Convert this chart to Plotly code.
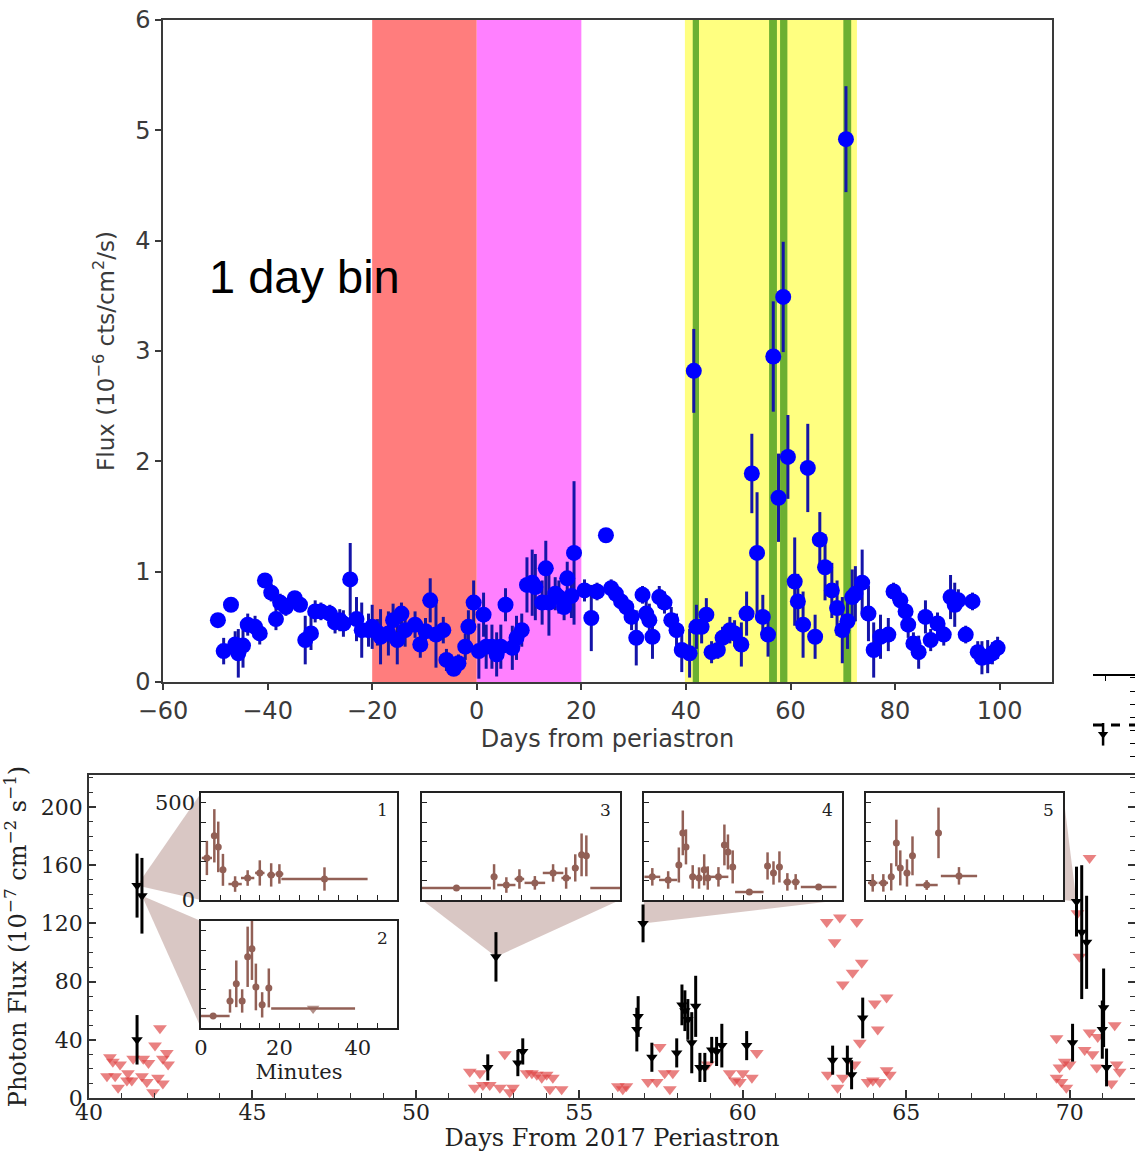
import plotly.graph_objects as go

# ---------------- top panel : 1 day bin light curve ----------------
top_days = [-49.5, -48.4, -47.0, -46.2, -45.6, -44.7, -43.8, -42.4, -41.5, -40.5, -39.3, -38.4, -37.6,
            -36.5, -34.8, -33.8, -32.8, -31.7, -30.9, -29.8, -28.1, -27.1, -26.2, -25.5, -24.2, -23.0,
            -22.0, -20.7, -20.0, -19.0, -18.4, -16.9, -16.0, -15.2, -14.4, -13.7, -11.8, -10.8, -9.8,
            -8.9, -7.8, -6.4, -5.8, -4.4, -3.5, -2.2, -1.6, -0.6, 0.4, 1.3, 1.8, 2.9, 3.8, 4.6, 5.5,
            6.8, 7.6, 8.6, 9.6, 10.6, 11.2, 12.5, 13.2, 13.8, 15.0, 15.7, 16.7, 17.3, 18.1, 18.6, 20.6,
            21.9, 23.0, 24.7, 25.7, 26.6, 27.6, 28.6, 29.6, 30.5, 31.7, 32.4, 33.0, 33.6, 34.9, 35.9,
            37.2, 38.2, 39.2, 40.7, 41.5, 42.0, 43.0, 43.9, 44.9, 46.1, 47.0, 48.4, 49.3, 50.6, 51.6,
            52.6, 53.6, 54.7, 55.7, 56.7, 57.7, 58.6, 59.5, 60.8, 61.4, 62.4, 63.3, 64.7, 65.6, 66.6,
            67.9, 68.9, 69.9, 70.6, 70.9, 71.8, 72.4, 73.7, 74.9, 75.9, 77.2, 78.7, 79.7, 81.0, 82.0,
            82.5, 83.5, 84.5, 85.8, 86.8, 88.1, 89.3, 90.6, 91.4, 92.1, 93.5, 94.8, 95.8, 96.6, 97.7,
            98.6, 99.6]
top_flux = [0.56, 0.28, 0.70, 0.34, 0.26, 0.33, 0.52, 0.50, 0.44, 0.92, 0.81, 0.57, 0.72,
            0.68, 0.76, 0.70, 0.38, 0.44, 0.64, 0.64, 0.62, 0.54, 0.56, 0.53, 0.93, 0.57,
            0.47, 0.47, 0.50, 0.45, 0.41, 0.44, 0.56, 0.38, 0.62, 0.47, 0.52, 0.34, 0.46,
            0.74, 0.43, 0.47, 0.20, 0.12, 0.17, 0.32, 0.50, 0.72, 0.28, 0.61, 0.32, 0.32, 0.25, 0.32, 0.70,
            0.31, 0.40, 0.47, 0.88, 0.90, 0.86, 0.72, 1.03, 0.72, 0.80, 0.77, 0.68, 0.94, 0.78, 1.17, 0.83,
            0.58, 0.82, 1.33, 0.85, 0.80, 0.73, 0.68, 0.59, 0.40, 0.79, 0.62, 0.56, 0.41, 0.77, 0.72,
            0.56, 0.47, 0.29, 0.26, 2.82, 0.50, 0.50, 0.61, 0.27, 0.29, 0.40, 0.47, 0.44, 0.34, 0.62,
            1.89, 1.17, 0.59, 0.43, 2.95, 1.67, 3.49, 2.04, 0.91, 0.73, 0.52, 1.94, 0.41, 1.29, 1.04,
            0.83, 0.67, 0.47, 4.92, 0.55, 0.77, 0.80, 0.90, 0.62, 0.29, 0.41, 0.43, 0.82, 0.74, 0.64,
            0.52, 0.35, 0.27, 0.59, 0.38, 0.53, 0.43, 0.77, 0.70, 0.74, 0.43, 0.73, 0.27, 0.22, 0.23,
            0.26, 0.31]
top_err = [0.06, 0.12, 0.06, 0.12, 0.22, 0.20, 0.10, 0.10, 0.10, 0.06, 0.08, 0.10, 0.08,
           0.08, 0.06, 0.06, 0.22, 0.15, 0.10, 0.08, 0.08, 0.10, 0.10, 0.12, 0.33, 0.20,
           0.25, 0.15, 0.20, 0.12, 0.25, 0.20, 0.15, 0.22, 0.10, 0.15, 0.12, 0.12, 0.12,
           0.20, 0.30, 0.12, 0.10, 0.06, 0.08, 0.12, 0.15, 0.20, 0.25, 0.20, 0.20, 0.20, 0.20, 0.20, 0.15,
           0.20, 0.20, 0.15, 0.25, 0.30, 0.30, 0.20, 0.25, 0.30, 0.15, 0.15, 0.12, 0.15, 0.20, 0.65, 0.10,
           0.30, 0.08, 0.05, 0.08, 0.08, 0.08, 0.08, 0.12, 0.25, 0.08, 0.12, 0.15, 0.20, 0.10, 0.10,
           0.12, 0.15, 0.20, 0.22, 0.38, 0.20, 0.15, 0.15, 0.10, 0.08, 0.10, 0.12, 0.12, 0.20, 0.20,
           0.36, 0.55, 0.20, 0.20, 0.50, 0.40, 0.50, 0.38, 0.40, 0.25, 0.30, 0.40, 0.20, 0.25, 0.30,
           0.25, 0.25, 0.30, 0.48, 0.25, 0.25, 0.25, 0.30, 0.25, 0.25, 0.20, 0.15, 0.08, 0.08, 0.10,
           0.12, 0.10, 0.15, 0.15, 0.10, 0.10, 0.10, 0.20, 0.20, 0.10, 0.08, 0.08, 0.10, 0.15, 0.15,
           0.10, 0.10]

band_red = [-20, 0]
band_magenta = [0, 20]
band_yellow = [39.8, 72.7]
green_bands = [[41.3, 42.5], [55.9, 57.4], [58.0, 59.4], [70.1, 71.6]]

# ---------------- bottom panel : detections and upper limits ----------------
det_day = [41.47, 41.62, 41.47, 52.2, 52.45, 53.12, 53.27, 56.76, 56.8, 56.95, 57.22, 57.98, 58.14,
           58.23, 58.32, 58.44, 58.56, 58.69, 58.84, 59.05, 59.2, 59.36, 60.12, 62.75, 63.2, 63.33,
           63.67, 70.09, 70.21, 70.37, 70.52, 71.0, 71.04, 71.13]
det_flux = [146, 139, 40, 21, 97, 24, 32, 47, 56, 120, 28, 31, 64,
            60, 54, 38, 63, 21, 21, 33, 32, 36, 36, 26, 26, 16,
            55, 38, 135, 114, 107, 47, 62, 21]
det_err = [22, 26, 17, 9, 17, 9, 9, 15, 14, 13, 10, 10, 14,
           14, 14, 21, 21, 10, 10, 9, 10, 15, 10, 10, 10, 10,
           14, 13, 24, 46, 32, 20, 27, 13]

ul_day = [40.64, 40.73, 40.95, 40.55, 40.80, 40.89, 41.19, 41.31, 41.16, 41.35, 41.66, 41.82, 42.02,
          42.17, 41.62, 41.77, 41.96, 42.11, 42.26, 42.38, 42.42, 42.26,
          51.65, 51.96, 51.80, 52.05, 52.26, 52.57, 52.72, 52.87, 52.97, 53.39, 53.55, 53.70, 53.85,
          54.0, 54.1, 54.19, 54.46, 56.18, 56.33, 56.44, 57.10, 57.37, 57.46, 57.61, 57.77, 57.86,
          58.93, 59.6, 59.76, 59.91, 60.0, 60.28, 60.43,
          62.57, 62.97, 63.49, 62.81, 63.06, 63.36, 63.64, 62.60, 62.9, 63.06, 63.42, 63.58,
          64.04, 64.40, 64.13, 63.82, 63.98, 64.19, 64.40, 64.50,
          69.6, 69.85, 70.0, 69.69, 69.6, 69.75, 69.9, 70.61, 70.46, 70.70, 70.86, 70.83,
          71.38, 71.44, 71.53, 71.28, 70.61, 70.24, 70.3]
ul_flux = [28, 25, 23, 15, 15, 7, 17, 12, 12, 27, 27, 24, 36,
           48, 15, 11, 4, 14, 10, 31, 23, 27,
           18, 17, 7, 9, 9, 7, 30, 4, 7, 17, 17, 16, 14,
           16, 6, 14, 6, 8, 6, 8, 11, 11, 35, 17, 6, 17,
           23, 17, 12, 11, 17, 14, 31,
           121, 124, 121, 107, 78, 86, 93, 16, 7, 14, 23, 38,
           65, 69, 47, 11, 12, 11, 19, 16,
           41, 25, 23, 21, 14, 11, 7, 45, 33, 30, 42, 21,
           50, 23, 18, 10, 165, 127, 97]

# ---------------- insets : minute binned flares ----------------
in1_min = [1.5, 3.4, 4.4, 5.6, 8.7, 11.9, 15.0, 17.9, 20.0, 31.5]
in1_xerr = [1.3, 0.6, 0.6, 0.8, 1.7, 1.7, 1.2, 1.0, 1.0, 11.0]
in1_flux = [216, 330, 273, 155, 82, 113, 139, 129, 134, 108]
in1_err = [88, 137, 130, 82, 40, 40, 65, 60, 50, 60]

in2_min = [3.1, 7.4, 9.0, 10.5, 11.9, 13.0, 14.0, 15.6, 17.3]
in2_xerr = [4.2, 0.8, 0.6, 0.6, 0.5, 0.5, 0.5, 0.6, 0.5]
in2_flux = [62, 139, 227, 139, 366, 407, 211, 119, 206]
in2_err = [0, 60, 120, 60, 155, 160, 120, 65, 100]
in2_ul_min = [28.6]
in2_ul_xerr = [10.7]
in2_ul_flux = [100]

in3_min = [8.7, 18.2, 21.3, 24.6, 28.5, 33.1, 36.4, 38.7, 40.3, 41.5, 52.0]
in3_xerr = [8.7, 0.8, 2.3, 1.2, 2.6, 2.6, 1.2, 0.8, 0.6, 0.6, 9.5]
in3_flux = [62, 119, 77, 108, 88, 139, 113, 165, 232, 227, 62]
in3_err = [0, 65, 40, 50, 35, 45, 55, 70, 110, 105, 0]

in4_min = [2.1, 6.1, 8.8, 9.8, 10.6, 12.3, 13.9, 15.2, 16.1, 18.8, 20.3, 21.2, 22.4,
           26.6, 31.2, 32.7, 34.2, 36.2, 38.3, 44.1]
in4_xerr = [2.0, 2.3, 0.6, 0.5, 0.5, 0.8, 0.8, 0.6, 0.6, 2.5, 0.5, 0.5, 0.6,
            3.6, 0.6, 0.6, 0.6, 1.0, 1.0, 4.5]
in4_flux = [119, 103, 180, 345, 273, 119, 113, 155, 113, 119, 283, 247, 170,
            41, 175, 139, 170, 93, 93, 67]
in4_err = [45, 45, 90, 115, 90, 60, 55, 80, 60, 50, 105, 90, 85,
           0, 70, 60, 80, 45, 40, 0]

in5_min = [1.7, 4.4, 6.4, 7.7, 8.7, 10.4, 11.8, 15.4, 18.4, 23.6]
in5_xerr = [1.2, 1.2, 0.8, 0.5, 0.6, 0.8, 0.6, 2.8, 0.4, 4.6]
in5_flux = [88, 88, 119, 293, 165, 139, 227, 77, 345, 124]
in5_err = [45, 45, 70, 120, 90, 70, 100, 25, 130, 45]

inset_labels = ["1", "2", "3", "4", "5"]

# fragment of a neighbouring panel cut at the right edge
frag_line_x = [0, 1]
frag_line_y = [0.48, 0.48]
frag_pt_x = [0.24]
frag_pt_y = [0.38]
frag_pt_err = [0.12]

W, H = 1135, 1152


def px_x(a, b):
    return [a / W, b / W]


def px_y(top, bottom):
    return [1 - bottom / H, 1 - top / H]


TOP_X = px_x(163, 1052)
TOP_Y = px_y(20, 682)
BOT_X = [89 / W, 1.0]
BOT_Y = px_y(775, 1098)
BOT_XR = [40, 72]
BOT_YR = [0, 222]
INSETS = {
    3: (px_x(201, 397), px_y(793, 900)),
    4: (px_x(201, 397), px_y(921, 1028)),
    5: (px_x(422, 620), px_y(793, 900)),
    6: (px_x(644, 842), px_y(793, 900)),
    7: (px_x(866, 1063), px_y(793, 900)),
}
FRAG_X = [1093 / W, 1.0]
FRAG_Y = px_y(676, 770)

BLUE = "#0000ff"
BLUE_ERR = "#1414a8"
BROWN = "rgb(146,96,86)"
RED_UL = "rgba(222,70,70,0.68)"
SERIF = "DejaVu Serif"
SANS = "DejaVu Sans"
GREY = "#3a3a3a"

fig = go.Figure()

# top panel
fig.add_trace(go.Scatter(
    x=top_days, y=top_flux, mode="markers", xaxis="x", yaxis="y",
    marker=dict(color=BLUE, size=16, line=dict(width=0)),
    error_y=dict(type="data", array=top_err, color=BLUE_ERR, thickness=3, width=0),
))

shapes = []
for (a, b), col in [(band_red, "rgb(255,125,125)"), (band_magenta, "rgb(255,128,255)"),
                    (band_yellow, "rgb(255,255,128)")]:
    shapes.append(dict(type="rect", xref="x", yref="y domain", x0=a, x1=b, y0=0, y1=1,
                       fillcolor=col, line=dict(width=0), layer="below"))
for a, b in green_bands:
    shapes.append(dict(type="rect", xref="x", yref="y domain", x0=a, x1=b, y0=0, y1=1,
                       fillcolor="rgb(108,176,50)", line=dict(width=0), layer="below"))

# bottom panel
fig.add_trace(go.Scatter(
    x=ul_day, y=ul_flux, mode="markers", xaxis="x2", yaxis="y2",
    marker=dict(symbol="triangle-down", color=RED_UL, size=12, line=dict(width=0)),
))
fig.add_trace(go.Scatter(
    x=det_day, y=det_flux, mode="markers", xaxis="x2", yaxis="y2",
    marker=dict(symbol="triangle-down", color="black", size=10),
    error_y=dict(type="data", array=det_err, color="black", thickness=3, width=0),
))
# invisible trace for the mirrored right-hand tick axis
fig.add_trace(go.Scatter(x=[40], y=[0], mode="markers", xaxis="x2", yaxis="y9",
                         marker=dict(opacity=0), hoverinfo="skip"))


def to_bottom(xp, yp):
    x = BOT_XR[0] + (xp - BOT_X[0]) / (BOT_X[1] - BOT_X[0]) * (BOT_XR[1] - BOT_XR[0])
    y = BOT_YR[0] + (yp - BOT_Y[0]) / (BOT_Y[1] - BOT_Y[0]) * (BOT_YR[1] - BOT_YR[0])
    return x, y


wedges = [(0, 3, "left"), (1, 4, "left"), (4, 5, "bottom"), (9, 6, "bottom"), (28, 7, "right")]
for idx, ax, side in wedges:
    (xd, yd) = INSETS[ax]
    if side == "left":
        c1, c2 = to_bottom(xd[0], yd[1]), to_bottom(xd[0], yd[0])
    elif side == "bottom":
        c1, c2 = to_bottom(xd[0], yd[0]), to_bottom(xd[1], yd[0])
    else:
        c1, c2 = to_bottom(xd[1], yd[1]), to_bottom(xd[1], yd[0])
    ax0, ay0 = det_day[idx], det_flux[idx]
    path = f"M {ax0},{ay0} L {c1[0]},{c1[1]} L {c2[0]},{c2[1]} Z"
    shapes.append(dict(type="path", xref="x2", yref="y2", path=path,
                       fillcolor="rgba(170,130,125,0.45)", line=dict(width=0), layer="below"))

# insets
inset_data = [
    (3, in1_min, in1_xerr, in1_flux, in1_err),
    (4, in2_min, in2_xerr, in2_flux, in2_err),
    (5, in3_min, in3_xerr, in3_flux, in3_err),
    (6, in4_min, in4_xerr, in4_flux, in4_err),
    (7, in5_min, in5_xerr, in5_flux, in5_err),
]
for ax, mx, mxe, fl, fe in inset_data:
    fig.add_trace(go.Scatter(
        x=mx, y=fl, mode="markers", xaxis=f"x{ax}", yaxis=f"y{ax}",
        marker=dict(color=BROWN, size=7),
        error_x=dict(type="data", array=mxe, color=BROWN, thickness=2.5, width=0),
        error_y=dict(type="data", array=fe, color=BROWN, thickness=2.5, width=0),
    ))
fig.add_trace(go.Scatter(
    x=in2_ul_min, y=in2_ul_flux, mode="markers", xaxis="x4", yaxis="y4",
    marker=dict(symbol="triangle-down", color="rgba(146,96,86,0.7)", size=11),
    error_x=dict(type="data", array=in2_ul_xerr, color=BROWN, thickness=2.5, width=0),
))

# fragment
fig.add_trace(go.Scatter(x=frag_line_x, y=frag_line_y, mode="lines", xaxis="x8", yaxis="y8",
                         line=dict(color="black", width=3, dash="dash")))
fig.add_trace(go.Scatter(x=frag_pt_x, y=frag_pt_y, mode="markers", xaxis="x8", yaxis="y8",
                         marker=dict(symbol="triangle-down", color="black", size=9),
                         error_y=dict(type="data", array=frag_pt_err, color="black",
                                      thickness=2.5, width=0)))

annotations = [dict(text="1 day bin", xref="x domain", yref="y domain", x=0.05, y=0.612,
                    xanchor="left", yanchor="middle", showarrow=False,
                    font=dict(family="Liberation Sans", size=47, color="black"))]
for ax, lab in zip([3, 4, 5, 6, 7], inset_labels):
    annotations.append(dict(text=lab, xref=f"x{ax} domain", yref=f"y{ax} domain", x=0.965, y=0.95,
                            xanchor="right", yanchor="top", showarrow=False,
                            font=dict(family=SERIF, size=17, color="#222")))

layout = dict(
    width=W, height=H, autosize=False, margin=dict(l=0, r=0, t=0, b=0),
    paper_bgcolor="white", plot_bgcolor="white", showlegend=False,
    shapes=shapes, annotations=annotations,
    xaxis=dict(domain=TOP_X, anchor="y", range=[-60, 110], tickmode="linear", tick0=-60, dtick=20,
               ticks="outside", ticklen=6, tickwidth=1.5, tickcolor=GREY, showline=True, mirror=True,
               linecolor=GREY, linewidth=1.5, showgrid=False, zeroline=False, automargin=False,
               tickfont=dict(family=SANS, size=24, color=GREY),
               title=dict(text="Days from periastron", font=dict(family=SANS, size=24, color=GREY),
                          standoff=4)),
    yaxis=dict(domain=TOP_Y, anchor="x", range=[0, 6], dtick=1, ticks="outside", ticklen=6,
               tickwidth=1.5, tickcolor=GREY, showline=True, mirror=True, linecolor=GREY,
               linewidth=1.5, showgrid=False, zeroline=False, automargin=False,
               tickfont=dict(family=SANS, size=24, color=GREY),
               title=dict(text="Flux (10<sup>−6</sup> cts/cm<sup>2</sup>/s)",
                          font=dict(family=SANS, size=23, color=GREY), standoff=14)),
    xaxis2=dict(domain=BOT_X, anchor="y2", range=BOT_XR, dtick=5, ticks="inside", ticklen=8,
                tickwidth=1.5, tickcolor="#333", showline=True, mirror=True, linecolor="#333",
                linewidth=1.5, showgrid=False, zeroline=False, automargin=False,
                ticklabelstandoff=-6,
                minor=dict(ticks="inside", dtick=1, ticklen=5, tickcolor="#333", tickwidth=1.2),
                tickfont=dict(family=SERIF, size=22, color="#222"),
                title=dict(text="Days From 2017 Periastron", font=dict(family=SERIF, size=24, color="#222"),
                           standoff=0)),
    yaxis2=dict(domain=BOT_Y, anchor="x2", range=BOT_YR, dtick=40, ticks="inside", ticklen=7,
                tickwidth=1.5, tickcolor="#333", showline=True, mirror=True, linecolor="#333",
                linewidth=1.5, showgrid=False, zeroline=False, automargin=False,
                minor=dict(ticks="inside", dtick=10, ticklen=4, tickcolor="#333", tickwidth=1.2),
                tickfont=dict(family=SERIF, size=22, color="#222"),
                title=dict(text="Photon Flux (10<sup>−7</sup> cm<sup>−2</sup> s<sup>−1</sup>)",
                           font=dict(family=SERIF, size=24, color="#222"), standoff=8)),
    yaxis9=dict(overlaying="y2", side="right", anchor="x2", range=BOT_YR, dtick=40, ticks="inside",
                ticklen=7, tickwidth=1.5, tickcolor="#333", showticklabels=False, showline=False,
                showgrid=False, zeroline=False, automargin=False,
                minor=dict(ticks="inside", dtick=10, ticklen=5, tickcolor="#333", tickwidth=1.2)),
    xaxis8=dict(domain=FRAG_X, anchor="y8", side="top", range=[0, 1], tickvals=[0.3], ticks="inside",
                ticklen=5, tickcolor="black", showticklabels=False, showline=True, linecolor="black",
                linewidth=1.5, showgrid=False, zeroline=False, automargin=False),
    yaxis8=dict(domain=FRAG_Y, anchor="x8", side="right", range=[0, 1], dtick=0.14, ticks="inside",
                ticklen=5, tickcolor="black", showticklabels=False, showline=False, showgrid=False,
                zeroline=False, automargin=False),
)

for ax, (xd, yd) in INSETS.items():
    xa = dict(
        domain=xd, anchor=f"y{ax}", range=[0, 50], tickmode="linear", tick0=0, dtick=20,
        ticks="inside", ticklen=5, tickwidth=1.3, tickcolor="#222", showline=True, mirror=True,
        linecolor="#222", linewidth=1.5, showgrid=False, zeroline=False, automargin=False,
        showticklabels=(ax == 4),
        minor=dict(ticks="inside", dtick=5, ticklen=5, tickcolor="#222", tickwidth=1.3),
        tickfont=dict(family=SERIF, size=21, color="#222"),
    )
    if ax == 4:
        xa["title"] = dict(text="Minutes", font=dict(family=SERIF, size=21, color="#222"), standoff=4)
    layout[f"xaxis{ax}"] = xa
    layout[f"yaxis{ax}"] = dict(
        domain=yd, anchor=f"x{ax}", range=[0, 550], tickmode="linear", tick0=0, dtick=500,
        ticks="inside", ticklen=5, tickwidth=1.3, tickcolor="#222", showline=True, mirror=True,
        linecolor="#222", linewidth=1.5, showgrid=False, zeroline=False, automargin=False,
        showticklabels=(ax == 3),
        minor=dict(ticks="inside", dtick=100, ticklen=5, tickcolor="#222", tickwidth=1.3),
        tickfont=dict(family=SERIF, size=21, color="#222"),
    )

fig.update_layout(**layout)
# the page body has a default 8px margin; remove it so the figure fills the window exactly
fig.write_html("out.html", config={"displayModeBar": False},
               post_script="document.body.style.margin='0px';")
